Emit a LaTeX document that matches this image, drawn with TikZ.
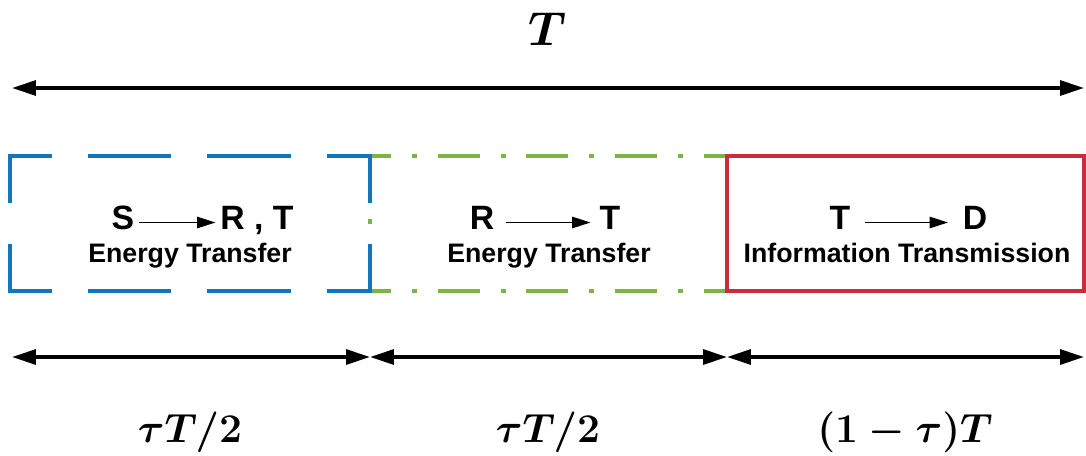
\documentclass[tikz,border=0pt]{standalone}
\usepackage[no-math]{fontspec}
\newfontfamily\lsans{Liberation Sans}
\usetikzlibrary{arrows.meta}
\definecolor{sky}{RGB}{18,118,190}
\definecolor{grass}{RGB}{122,182,70}
\definecolor{crimson}{RGB}{203,43,58}
\tikzset{
  slot/.style={minimum height=3.375cm,inner sep=0pt,outer sep=0pt},
  hdash/.style={draw=sky,line width=2.7pt,line cap=rect,
    dash pattern=on 56.7pt off 28.35pt,dash phase=28.35pt},
  vdash/.style={draw=sky,line width=2.7pt,line cap=rect,
    dash pattern=on 31.9pt off 31.9pt},
  dashdot/.style={draw=grass,line width=2.5pt,
    dash pattern=on 29.8pt off 14.9pt on 3.5pt off 14.9pt,dash phase=#1},
  dashdot/.default=14.9pt,
  span/.style={{Triangle[length=17pt,width=10.5pt]}-{Triangle[length=17pt,width=10.5pt]},
    line width=2.6pt},
  flow/.style={-{Triangle[length=13pt,width=8pt]},line width=1.3pt},
  term/.style={font=\lsans\bfseries\fontsize{24}{28}\selectfont,
    text height=16.3pt,text depth=5.7pt},
  task/.style={font=\lsans\bfseries\fontsize{19}{22}\selectfont,
    text height=13.6pt,text depth=0pt},
  dur/.style={font=\Huge\boldmath,anchor=base,scale=1.166},
}
\begin{document}
\begin{tikzpicture}[x=0.025cm,y=-0.025cm]
  \useasboundingbox (0,0) rectangle (1086,455);
  % total frame
  \coordinate (t0) at (12,88);
  \coordinate (t1) at (1084,88);
  \draw[span] (t0) -- (t1);
  \node[dur,scale=1.17] (whole) at (547,45) {$T$};
  % slots
  \node[slot,minimum width=9cm] (slotA) at (190,223.5) {};
  \node[slot,minimum width=8.925cm] (slotB) at (548.5,223.5) {};
  \draw[dashdot] (slotB.north west) -- (slotB.north east);
  \draw[dashdot] (slotB.south west) -- (slotB.south east);
  \draw[dashdot=0pt] (slotB.north west) -- (slotB.south west);
  \draw[hdash] (slotA.north west) -- (slotA.north east);
  \draw[hdash] (slotA.south west) -- (slotA.south east);
  \draw[vdash] (slotA.north west) -- (slotA.south west);
  \draw[vdash] (slotA.north east) -- (slotA.south east);
  \node[slot,minimum width=8.925cm,draw=crimson,line width=2.7pt] (slotC) at (905.5,223.5) {};
  % slot contents
  \node[term] (srcA) at (123,222.5) {S};
  \node[term] (dstA) at (257,222.5) {R , T};
  \node[task] (capA) at (190,253) {Energy Transfer};
  \draw[flow] (srcA) -- (dstA);
  \node[term] (srcB) at (482,222.5) {R};
  \node[term] (dstB) at (610,222.5) {T};
  \node[task] (capB) at (549,253) {Energy Transfer};
  \draw[flow,shorten <=5pt,shorten >=3pt] (srcB) -- (dstB);
  \node[term] (srcC) at (840,222.5) {T};
  \node[term] (dstC) at (975,222.5) {D};
  \node[task] (capC) at (907,253) {Information Transmission};
  \draw[flow,shorten <=7pt,shorten >=7pt] (srcC) -- (dstC);
  % durations
  \coordinate (b0) at (12,357);
  \coordinate (b1) at (370,357);
  \coordinate (b2) at (727,357);
  \coordinate (b3) at (1084,357);
  \draw[span] (b0) -- (b1);
  \draw[span] (b1) -- (b2);
  \draw[span] (b2) -- (b3);
  \node[dur] (durA) at (190,442) {$\tau T/2$};
  \node[dur] (durB) at (548,442) {$\tau T/2$};
  \node[dur] (durC) at (905,442) {$(1-\tau)T$};
\end{tikzpicture}
\end{document}
